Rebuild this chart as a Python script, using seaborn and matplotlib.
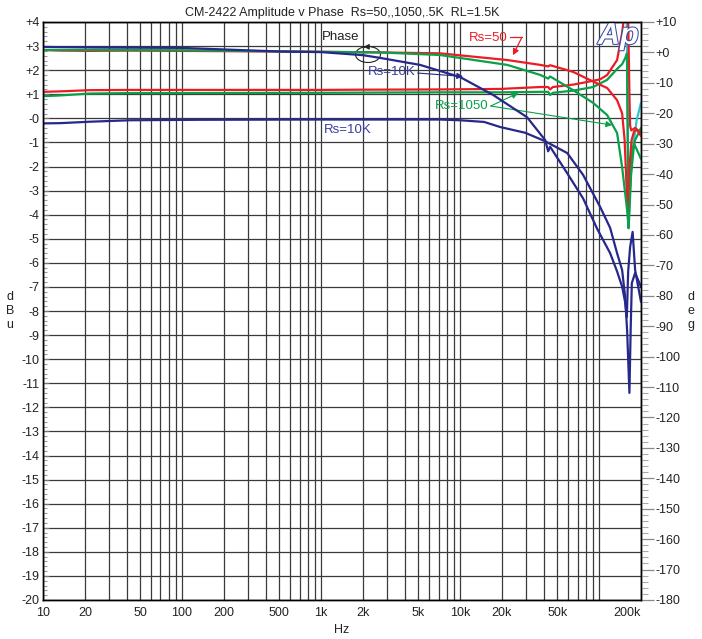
import matplotlib
matplotlib.use("Agg")
import numpy as np
import pandas as pd
import matplotlib.pyplot as plt
import seaborn as sns
from matplotlib.ticker import FixedLocator, NullFormatter, MultipleLocator
from matplotlib.patches import Ellipse
import matplotlib.patheffects as pe

# ---------------- data ----------------
# Amplitude, dBu (left axis)
amp_red_hz = [10, 13.3, 21.8, 42.3, 100, 507, 1000, 2000, 7175, 19400, 37700, 43000, 44400,
              46500, 65000, 82000, 101700, 114200, 134600, 146300, 153700, 156400, 158200,
              161700, 165100, 167000, 170000, 181500, 200000]
amp_red_db = [1.10, 1.12, 1.17, 1.18, 1.18, 1.18, 1.18, 1.19, 1.20, 1.22, 1.30, 1.30, 1.20,
              1.30, 1.40, 1.51, 1.62, 1.80, 2.42, 3.54, 4.60, 5.50, 5.50,
              4.20, 1.00, -0.30, -0.50, -0.40, -0.60]

amp_green_hz = [10, 13.3, 21.8, 42.3, 100, 1000, 7175, 19400, 37700, 43000, 44400, 46500,
                65000, 90600, 114200, 134600, 146300, 152500, 156400, 158500, 162500,
                166000, 171200, 181500, 200000]
amp_green_db = [0.92, 0.95, 1.03, 1.05, 1.05, 1.06, 1.08, 1.08, 1.10, 1.10, 0.97, 1.06,
                1.15, 1.30, 1.60, 2.05, 2.25, 2.45, 2.60, 2.70, -4.55,
                -3.00, -1.50, -0.90, -0.40]

amp_blue_hz = [10, 13.3, 21.8, 42.3, 134.7, 1000, 7175, 10000, 14900, 19400, 29400, 40900,
               58900, 76700, 101700, 120000, 134600, 146300, 153700, 158900, 165100,
               168500, 171800, 181500, 200000]
amp_blue_db = [-0.21, -0.20, -0.14, -0.08, -0.06, -0.05, -0.05, -0.08, -0.15, -0.36, -0.60, -0.95,
               -1.44, -2.35, -3.68, -4.55, -5.60, -6.30, -7.40, -8.80, -11.40,
               -8.80, -6.84, -6.42, -7.00]

amp_cyan_hz = [157700, 158900, 163000, 172700, 186200, 200000]
amp_cyan_db = [4.60, 2.70, -4.00, -1.50, -0.07, 0.65]

# Phase, degrees (right axis)
ph_red_hz = [10, 13.3, 21.8, 42.3, 100, 1000, 2656, 7175, 21800, 37700, 43000, 44400, 65000,
             86100, 114200, 134600, 146300, 152500, 157700, 161700, 165600, 171200, 178500,
             187600, 200000]
ph_red_deg = [0.8, 0.6, 0.5, 0.6, 0.5, 0.2, 0.0, -0.3, -2.5, -4.1, -4.6, -4.2, -6.4,
              -9.1, -11.7, -15.7, -20.0, -28.8, -45.0, -53.5, -37.0, -28.8, -25.9,
              -25.5, -27.5]

ph_green_hz = [10, 21.8, 100, 1000, 2656, 7175, 21800, 37700, 43000, 44400, 65000, 90600,
               114200, 134600, 146300, 158900, 163000, 169800, 178500, 200000]
ph_green_deg = [0.8, 0.8, 0.7, 0.2, 0.0, -0.85, -4.1, -7.4, -8.6, -7.9, -12.4, -16.6,
                -20.6, -26.5, -37.7, -51.8, -57.8, -40.0, -30.0, -35.0]

ph_blue_hz = [10, 25.7, 96.8, 507, 1000, 2000, 2656, 5150, 10000, 17300, 30300, 40900,
              43000, 44400, 58900, 76700, 96800, 120000, 134600, 146300, 153700, 158200,
              161700, 167000, 174100, 181500, 200000]
ph_blue_deg = [1.8, 1.6, 1.5, 0.3, 0.1, -0.9, -1.8, -4.1, -8.1, -14.0, -21.3, -28.8,
               -32.5, -31.0, -39.7, -48.0, -58.0, -66.0, -72.0, -77.0, -82.0, -87.0,
               -72.0, -64.0, -59.0, -71.6, -82.0]

xtick_vals = [10, 20, 50, 100, 200, 500, 1000, 2000, 5000, 10000, 20000, 50000, 200000]
xtick_labels = ['10', '20', '50', '100', '200', '500', '1k', '2k', '5k', '10k', '20k', '50k', '200k']
left_ticks = list(range(-20, 5))
right_ticks = list(range(-180, 11, 10))

# ---------------- frames ----------------
amp_df = pd.concat([
    pd.DataFrame({'Hz': amp_cyan_hz, 'dBu': amp_cyan_db, 'Rs': 'Rs=5K'}),
    pd.DataFrame({'Hz': amp_red_hz, 'dBu': amp_red_db, 'Rs': 'Rs=50'}),
    pd.DataFrame({'Hz': amp_green_hz, 'dBu': amp_green_db, 'Rs': 'Rs=1050'}),
    pd.DataFrame({'Hz': amp_blue_hz, 'dBu': amp_blue_db, 'Rs': 'Rs=10K'}),
], ignore_index=True)
ph_df = pd.concat([
    pd.DataFrame({'Hz': ph_red_hz, 'deg': ph_red_deg, 'Rs': 'Rs=50'}),
    pd.DataFrame({'Hz': ph_green_hz, 'deg': ph_green_deg, 'Rs': 'Rs=1050'}),
    pd.DataFrame({'Hz': ph_blue_hz, 'deg': ph_blue_deg, 'Rs': 'Rs=10K'}),
], ignore_index=True)

RED = '#ec1c24'
GREEN = '#0aa04a'
BLUE = '#26288c'
CYAN = '#2ec4d0'
palette = {'Rs=5K': CYAN, 'Rs=50': RED, 'Rs=1050': GREEN, 'Rs=10K': BLUE}

# ---------------- figure ----------------
sns.set_style('white')
plt.rcParams['font.family'] = ['Liberation Sans', 'DejaVu Sans']

fig = plt.figure(figsize=(7.02, 6.39), dpi=100)
ax = fig.add_axes([43 / 702, 1 - 600 / 639, 598 / 702, 578 / 639])
ax.set_xscale('log')

sns.lineplot(data=amp_df, x='Hz', y='dBu', hue='Rs', palette=palette,
             hue_order=['Rs=5K', 'Rs=50', 'Rs=1050', 'Rs=10K'],
             estimator=None, sort=False, legend=False, linewidth=1.6, ax=ax)
ax.set_xlim(10, 200000)
ax.set_ylim(-20, 4)

ax2 = ax.twinx()
sns.lineplot(data=ph_df, x='Hz', y='deg', hue='Rs', palette=palette,
             hue_order=['Rs=50', 'Rs=1050', 'Rs=10K'],
             estimator=None, sort=False, legend=False, linewidth=1.6, ax=ax2)
ax2.set_xscale('log')
ax2.set_xlim(10, 200000)
ax2.set_ylim(-180, 10)

# grid
grid_x = [m * d for d in [10, 100, 1000, 10000, 100000] for m in range(1, 10) if m * d <= 200000]
ax.set_xticks(xtick_vals)
ax.set_xticklabels(xtick_labels)
ax.xaxis.set_minor_locator(FixedLocator(grid_x))
ax.xaxis.set_minor_formatter(NullFormatter())
ax.grid(which='both', axis='x', color='#3a3a3a', linewidth=0.9)
ax.set_yticks(left_ticks)
ax.set_yticklabels([('+%d' % v) if v > 0 else ('-0' if v == 0 else '%d' % v) for v in left_ticks])
ax.yaxis.set_minor_locator(MultipleLocator(0.2))
ax.grid(which='major', axis='y', color='#3a3a3a', linewidth=0.9)
ax.set_xlabel('')
ax.set_ylabel('')

ax.tick_params(axis='x', which='both', length=0, pad=5, labelsize=9, colors='#222222')
ax.tick_params(axis='y', which='major', direction='in', length=4.5, width=0.8, color='#777777',
               labelsize=9, pad=2.5, labelcolor='#222222')
ax.tick_params(axis='y', which='minor', direction='in', length=3.2, width=0.8, color='#999999')
for lab in ax.get_xticklabels():
    if lab.get_text() == '200k':
        lab.set_horizontalalignment('right')

ax2.set_yticks(right_ticks)
ax2.set_yticklabels([('+%d' % v) if v > 0 else ('+0' if v == 0 else '%d' % v) for v in right_ticks])
ax2.yaxis.set_minor_locator(MultipleLocator(2))
ax2.tick_params(axis='y', which='major', direction='out', length=9, width=0.9, color='#888888',
                labelsize=9, pad=1.5, labelcolor='#222222')
ax2.tick_params(axis='y', which='minor', direction='out', length=5, width=0.8, color='#aaaaaa')
ax2.set_ylabel('')
ax2.set_xlabel('')
ax2.grid(False)

for a in (ax, ax2):
    for s in a.spines.values():
        s.set_color('black')
        s.set_linewidth(1.0)

# ---------------- texts ----------------
fig.text(342 / 702, 1 - 13 / 639, 'CM-2422 Amplitude v Phase  Rs=50,,1050,.5K  RL=1.5K',
         ha='center', va='center', fontsize=9, color='#222222')
fig.text(342 / 702, 1 - 630 / 639, 'Hz', ha='center', va='center', fontsize=9, color='#222222')
fig.text(10 / 702, 1 - 311 / 639, 'd\nB\nu', ha='center', va='center', fontsize=9,
         linespacing=1.25, color='#222222')
fig.text(691 / 702, 1 - 311 / 639, 'd\ne\ng', ha='center', va='center', fontsize=9,
         linespacing=1.25, color='#222222')

# Ap logo
ax.text(0.962, 0.976, 'Ap', transform=ax.transAxes, ha='center', va='center', fontsize=22,
        fontstyle='italic', fontweight='bold', color='white', zorder=6,
        path_effects=[pe.withStroke(linewidth=1.5, foreground='#3848a8')])

# annotations
ax.text(1371, 3.39, 'Phase', ha='center', va='center', fontsize=9.5, color='#222222', zorder=6)
ax.add_patch(Ellipse(((368 - 43) / 598, (600 - 54.5) / 578), 25 / 598, 16 / 578,
                     transform=ax.transAxes, fill=False, edgecolor='#222222', lw=0.8, zorder=6))
ax.annotate('', xy=(1930, 2.97), xytext=(2150, 2.97),
            arrowprops=dict(arrowstyle='-|>', color='#222222', lw=0.8, mutation_scale=8), zorder=6)

ax.text(15900, 3.34, 'Rs=50', ha='center', va='center', fontsize=9.5, color=RED, zorder=6)
ax.plot([22900, 27800], [3.36, 3.36], color=RED, lw=0.9, zorder=6)
ax.annotate('', xy=(24000, 2.62), xytext=(27800, 3.36),
            arrowprops=dict(arrowstyle='-|>', color=RED, lw=0.9, mutation_scale=9,
                            shrinkA=0, shrinkB=0), zorder=6)

ax.text(3240, 1.94, 'Rs=10K', ha='center', va='center', fontsize=9.5, color='#3a3c9c', zorder=6)
ax.annotate('', xy=(10500, 1.74), xytext=(4950, 1.88),
            arrowprops=dict(arrowstyle='-|>', color=BLUE, lw=0.8, mutation_scale=9,
                            shrinkA=0, shrinkB=0), zorder=6)

ax.text(10200, 0.51, 'Rs=1050', ha='center', va='center', fontsize=9.5, color=GREEN, zorder=6)
ax.annotate('', xy=(26100, 1.05), xytext=(16600, 0.51),
            arrowprops=dict(arrowstyle='-|>', color=GREEN, lw=0.8, mutation_scale=9,
                            shrinkA=0, shrinkB=0), zorder=6)
ax.annotate('', xy=(124000, -0.28), xytext=(16600, 0.51),
            arrowprops=dict(arrowstyle='-|>', color=GREEN, lw=0.8, mutation_scale=9,
                            shrinkA=0, shrinkB=0), zorder=6)

ax.text(1563, -0.49, 'Rs=10K', ha='center', va='center', fontsize=9.5, color='#3a3c9c', zorder=6)

fig.savefig('out.png', dpi=100)
